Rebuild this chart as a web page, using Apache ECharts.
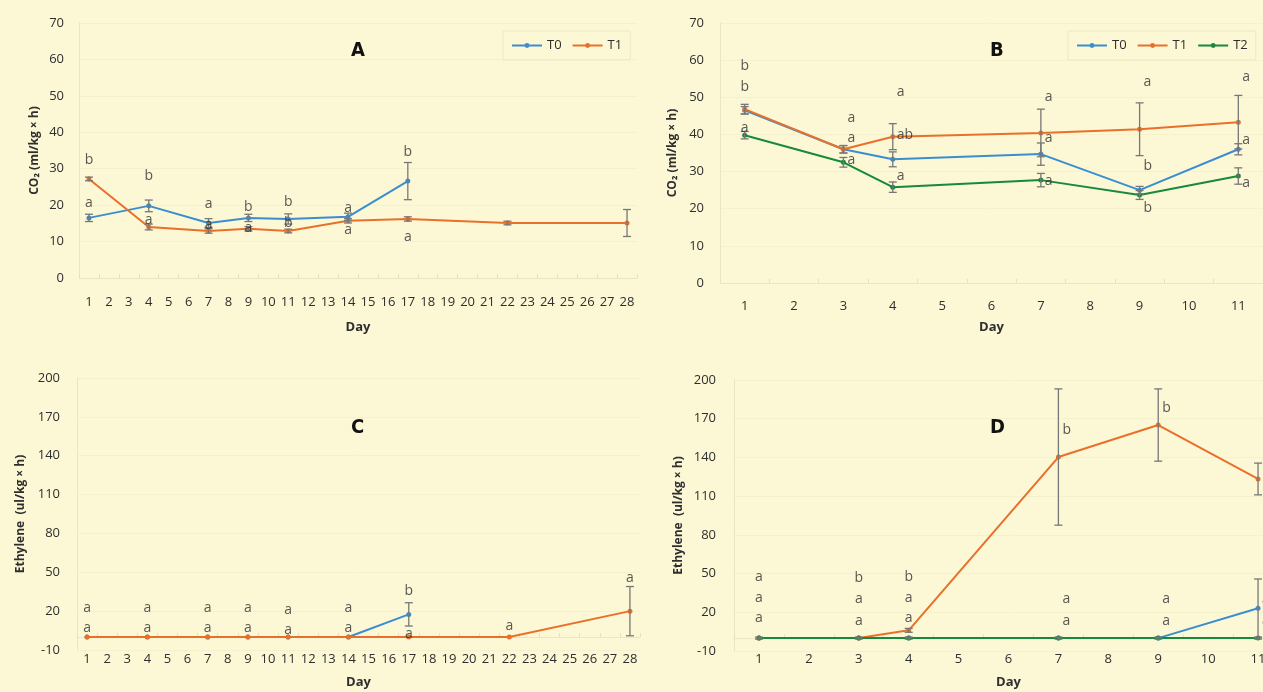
<!DOCTYPE html>
<html>
<head>
<meta charset="utf-8">
<script src="https://cdn.jsdelivr.net/npm/echarts@6/dist/echarts.min.js"></script>
<style>
  html, body { margin: 0; padding: 0; background: #fcf8d6; overflow: hidden; }
  #chart { width: 1300px; height: 692px; }
</style>
</head>
<body>
<div id="chart"></div>
<script>
// x categories
const daysLong = Array.from({ length: 28 }, (_, i) => String(i + 1));
const daysShort = Array.from({ length: 11 }, (_, i) => String(i + 1));
const co2Ticks = { min: 0, max: 70, interval: 10 };
const ethTicks = { min: -10, max: 200, interval: 30 };

// Panel A: CO2, 28 days
const aDays = [1, 4, 7, 9, 11, 14, 17, 22, 28];
const aT0 = [16.5, 19.8, 15.1, 16.5, 16.2, 16.8, 26.6, null, null];
const aT0Err = [1.0, 1.6, 1.2, 1.0, 1.4, 1.0, 5.1, null, null];
const aT1 = [27.2, 14.0, 12.9, 13.5, 12.9, 15.7, 16.2, 15.1, 15.1];
const aT1Err = [0.5, 0.8, 0.6, 0.6, 0.5, 0.6, 0.6, 0.5, 3.7];
const aLetters = [
  [1, 32.4, 'b'], [1, 20.6, 'a'], [4, 28, 'b'], [4, 15.9, 'a'],
  [7, 20.3, 'a'], [7, 14.6, 'a'], [9, 19.5, 'b'], [9, 13.7, 'a'],
  [11, 20.9, 'b'], [11, 15.1, 'b'], [14, 19.2, 'a'], [14, 13.2, 'a'],
  [17, 34.6, 'b'], [17, 11.3, 'a']
];

// Panel B: CO2, 11 days
const bDays = [1, 3, 4, 7, 9, 11];
const bT0 = [46.5, 36.0, 33.3, 34.7, 25.0, 36.0];
const bT0Err = [1.0, 1.0, 2.0, 3.0, 1.0, 1.5];
const bT1 = [46.8, 36.0, 39.4, 40.4, 41.4, 43.3];
const bT1Err = [1.3, 1.0, 3.5, 6.4, 7.1, 7.2];
const bT2 = [39.8, 32.5, 25.8, 27.7, 23.7, 28.8];
const bT2Err = [1.0, 1.3, 1.4, 1.8, 1.2, 2.2];
const bLetters = [[1, 58.4, 'b'], [1, 52.8, 'b'], [1, 41.7, 'a']];
const bLettersSide = [
  [3, 44.4, 'a'], [3, 39, 'a'], [3, 33.1, 'a'],
  [4, 51.4, 'a'], [4, 39.8, 'ab'], [4, 28.8, 'a'],
  [7, 50, 'a'], [7, 39, 'a'], [7, 27.5, 'a'],
  [9, 54.1, 'a'], [9, 31.5, 'b'], [9, 20.2, 'b'],
  [11, 55.5, 'a'], [11, 38.5, 'a'], [11, 26.9, 'a']
];

// Panel C: ethylene, 28 days
const cDays = [1, 4, 7, 9, 11, 14, 17, 22, 28];
const cT0 = [0, 0, 0, 0, 0, 0, 17.5, null, null];
const cT0Err = [null, null, null, null, null, null, 9, null, null];
const cT1 = [0, 0, 0, 0, 0, 0, 0, 0, 20];
const cT1Err = [null, null, null, null, null, null, null, null, 19];
const cLetters = [
  [1, 22.2, 'a'], [1, 6.8, 'a'], [4, 22.2, 'a'], [4, 6.8, 'a'],
  [7, 22.2, 'a'], [7, 6.8, 'a'], [9, 22.2, 'a'], [9, 6.8, 'a'],
  [11, 21.2, 'a'], [11, 5.6, 'a'], [14, 22.2, 'a'], [14, 6.8, 'a'],
  [17, 35.6, 'b'], [17, 2.2, 'a'], [22, 8.8, 'a'], [28, 45.4, 'a']
];

// Panel D: ethylene, 11 days
const dDays = [1, 3, 4, 7, 9, 11];
const dT0 = [0, 0, 0, 0, 0, 23.1];
const dT0Err = [null, null, null, null, null, 22.7];
const dT1 = [0, 0, 6, 140.3, 165.1, 123.3];
const dT1Err = [null, null, 1.5, 52.8, 28, 12.3];
const dT2 = [0, 0, 0, 0, 0, 0];
const dT2Err = [0.8, 0.8, 0.8, 0.8, 0.8, 0.8];
const dLetters = [
  [1, 47.6, 'a'], [1, 31.3, 'a'], [1, 15.3, 'a'],
  [3, 46.3, 'b'], [3, 30, 'a'], [3, 13.5, 'a'],
  [4, 47.6, 'b'], [4, 31.3, 'a'], [4, 15.3, 'a']
];
const dLettersSide = [
  [7, 161.3, 'b'], [7, 30, 'a'], [7, 13.5, 'a'],
  [9, 178.1, 'b'], [9, 30, 'a'], [9, 13.5, 'a'],
  [11, 145.8, 'b'], [11, 29.5, 'a'], [11, 13.5, 'a']
];

const BLUE = '#3a8ed0', ORANGE = '#e8702a', GREEN = '#17893b';
const FONT = "'Open Sans', 'DejaVu Sans', sans-serif";
const TXT = '#2e2e2e';

const pts = (days, vals) => days.map((d, i) => vals[i] == null ? null : [String(d), vals[i]]).filter(Boolean);
const errs = (days, vals, e) => days.map((d, i) => e[i] == null || vals[i] == null ? null : [String(d), vals[i] - e[i], vals[i] + e[i]]).filter(Boolean);
const lets = (arr) => arr.map(([d, y, t]) => [String(d), y, t]);

function line(name, color, data, idx) {
  return {
    name, type: 'line', xAxisIndex: idx, yAxisIndex: idx, data,
    symbol: 'circle', symbolSize: 5, lineStyle: { color, width: 2 },
    itemStyle: { color }, z: 3, animation: false
  };
}

function errorBars(data, idx) {
  return {
    type: 'custom', xAxisIndex: idx, yAxisIndex: idx, data, z: 4,
    encode: { x: 0, y: [1, 2] }, animation: false, silent: true,
    renderItem(params, api) {
      const x = api.value(0);
      const lo = api.coord([x, api.value(1)]);
      const hi = api.coord([x, api.value(2)]);
      const style = { stroke: '#777', lineWidth: 1.3 };
      return { type: 'group', children: [
        { type: 'line', shape: { x1: lo[0], y1: lo[1], x2: hi[0], y2: hi[1] }, style },
        { type: 'line', shape: { x1: lo[0] - 4, y1: lo[1], x2: lo[0] + 4, y2: lo[1] }, style },
        { type: 'line', shape: { x1: hi[0] - 4, y1: hi[1], x2: hi[0] + 4, y2: hi[1] }, style }
      ]};
    }
  };
}

function letters(data, idx, side) {
  return {
    type: 'scatter', xAxisIndex: idx, yAxisIndex: idx, data, z: 5,
    symbolSize: 0.1, itemStyle: { color: 'transparent' }, silent: true, animation: false,
    label: {
      show: true, position: 'inside', formatter: p => p.value[2],
      color: TXT, fontSize: 14, fontFamily: FONT,
      align: side ? 'left' : 'center', offset: side ? [4, 0] : [0, 0]
    }
  };
}

function xAxis(idx, data, margin, nameGap) {
  return {
    type: 'category', gridIndex: idx, data, boundaryGap: true,
    name: 'Day', nameLocation: 'middle', nameGap,
    nameTextStyle: { color: TXT, fontSize: 13, fontWeight: 'bold', fontFamily: FONT },
    axisLine: { lineStyle: { color: '#ebe6c2' } },
    axisTick: { show: true, inside: true, length: 4, lineStyle: { color: '#e6e1bd' } },
    axisLabel: { interval: 0, margin, color: TXT, fontSize: 13, fontFamily: FONT }
  };
}

function yAxis(idx, ticks, name, margin, nameGap) {
  return {
    type: 'value', gridIndex: idx, ...ticks,
    name, nameLocation: 'middle', nameGap,
    nameTextStyle: { color: TXT, fontSize: 12, fontWeight: 'bold', fontFamily: FONT },
    axisLine: { show: true, lineStyle: { color: '#ebe6c2' } },
    axisTick: { show: false },
    splitLine: { show: true, lineStyle: { color: '#f6f1cd' } },
    axisLabel: { margin, color: TXT, fontSize: 13, fontFamily: FONT }
  };
}

const titleStyle = { fontSize: 20, fontWeight: 'bold', color: '#111', fontFamily: "'DejaVu Sans Condensed', 'DejaVu Sans', sans-serif" };
const legendBase = {
  orient: 'horizontal', itemWidth: 30, itemHeight: 6, itemGap: 10,
  borderColor: '#ece7c3', borderWidth: 1, padding: [8, 8],
  textStyle: { color: TXT, fontSize: 13, fontFamily: FONT }
};

const co2Name = 'CO\u2082 (ml/kg \u00d7 h)';
const ethName = 'Ethylene  (ul/kg \u00d7 h)';

const option = {
  backgroundColor: '#fcf8d6',
  animation: false,
  title: [
    { text: 'A', left: 346, top: 36, textStyle: titleStyle },
    { text: 'B', left: 985, top: 36, textStyle: titleStyle },
    { text: 'C', left: 346, top: 413, textStyle: titleStyle },
    { text: 'D', left: 985, top: 413, textStyle: titleStyle }
  ],
  legend: [
    { ...legendBase, left: 503, top: 31, data: ['T0', 'T1'] },
    { ...legendBase, left: 1068, top: 31, data: ['T0', 'T1', 'T2'] }
  ],
  grid: [
    { left: 79, top: 23, width: 558, height: 255 },
    { left: 720, top: 23, width: 543, height: 260 },
    { left: 77, top: 378, width: 563, height: 272 },
    { left: 734, top: 380, width: 549, height: 271 }
  ],
  xAxis: [
    xAxis(0, daysLong, 18, 43),
    xAxis(1, daysShort, 17, 38),
    xAxis(2, daysLong, 3, 26),
    xAxis(3, daysShort, 2, 25)
  ],
  yAxis: [
    yAxis(0, co2Ticks, co2Name, 15, 38),
    yAxis(1, co2Ticks, co2Name, 16, 41),
    yAxis(2, ethTicks, ethName, 17, 50),
    yAxis(3, ethTicks, ethName, 18, 49)
  ],
  series: [
    line('T0', BLUE, pts(aDays, aT0), 0),
    line('T1', ORANGE, pts(aDays, aT1), 0),
    errorBars(errs(aDays, aT0, aT0Err), 0),
    errorBars(errs(aDays, aT1, aT1Err), 0),
    letters(lets(aLetters), 0, false),

    line('T0', BLUE, pts(bDays, bT0), 1),
    line('T1', ORANGE, pts(bDays, bT1), 1),
    line('T2', GREEN, pts(bDays, bT2), 1),
    errorBars(errs(bDays, bT0, bT0Err), 1),
    errorBars(errs(bDays, bT1, bT1Err), 1),
    errorBars(errs(bDays, bT2, bT2Err), 1),
    letters(lets(bLetters), 1, false),
    letters(lets(bLettersSide), 1, true),

    line('T0', BLUE, pts(cDays, cT0), 2),
    line('T1', ORANGE, pts(cDays, cT1), 2),
    errorBars(errs(cDays, cT0, cT0Err), 2),
    errorBars(errs(cDays, cT1, cT1Err), 2),
    letters(lets(cLetters), 2, false),

    line('T0', BLUE, pts(dDays, dT0), 3),
    line('T1', ORANGE, pts(dDays, dT1), 3),
    line('T2', GREEN, pts(dDays, dT2), 3),
    errorBars(errs(dDays, dT0, dT0Err), 3),
    errorBars(errs(dDays, dT1, dT1Err), 3),
    errorBars(errs(dDays, dT2, dT2Err), 3),
    letters(lets(dLetters), 3, false),
    letters(lets(dLettersSide), 3, true)
  ]
};

const chart = echarts.init(document.getElementById('chart'), null, { renderer: 'canvas' });
chart.setOption(option);
</script>
</body>
</html>
